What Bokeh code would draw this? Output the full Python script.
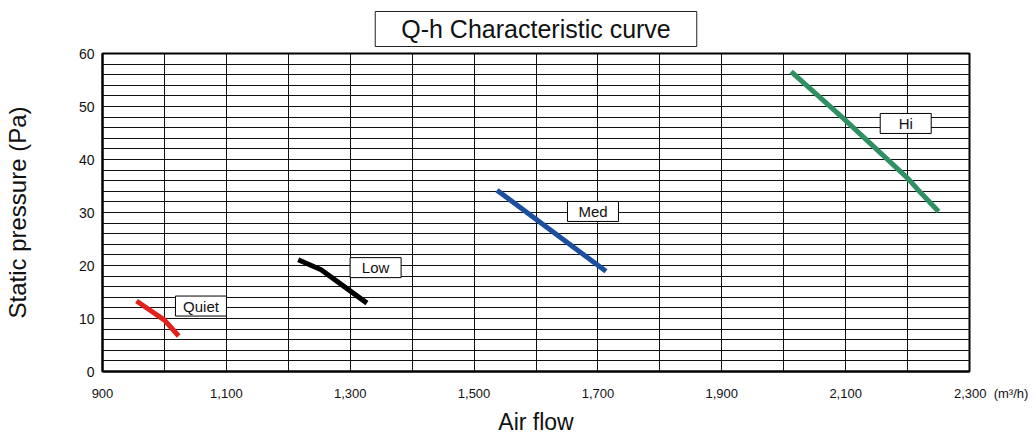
from bokeh.plotting import figure
from bokeh.models import FixedTicker, SingleIntervalTicker, NumeralTickFormatter, ColumnDataSource, Range1d, Title
from bokeh.core.properties import value
from bokeh.embed import file_html
from bokeh.resources import INLINE

# ---- data ----
quiet_x = [955, 975, 1000, 1023]
quiet_y = [13.3, 11.7, 9.7, 6.7]
low_x = [1216, 1253, 1327]
low_y = [21.1, 19.2, 12.9]
med_x = [1537, 1713]
med_y = [34.2, 18.9]
hi_x = [2012, 2095, 2200, 2216, 2250]
hi_y = [56.6, 47.9, 36.5, 34.4, 30.2]

series_names = ["Quiet", "Low", "Med", "Hi"]
label_x = [1059, 1341, 1692, 2197]
label_y = [12.35, 19.6, 30.2, 46.8]

x_ticks = [900, 1100, 1300, 1500, 1700, 1900, 2100, 2300]
y_ticks = [0, 10, 20, 30, 40, 50, 60]
x_unit = "(m\u00b3/h)"

title_text = "Q-h Characteristic curve"
x_title = "Air flow"
y_title = "Static pressure (Pa)"

FONT = "Liberation Sans"
TXT = "#111111"
colors = ["#e3231b", "#000000", "#1c4fa0", "#2f9163"]

p = figure(width=1036, height=437,
           x_range=Range1d(900, 2300), y_range=Range1d(0, 60),
           output_backend="svg", toolbar_location=None,
           min_border_left=101, min_border_right=67,
           min_border_top=53, min_border_bottom=63)
p.title = Title(text=title_text, align="center", offset=-1.5, standoff=14,
                text_font=FONT, text_font_size="25px", text_font_style="normal",
                text_color=TXT, background_fill_color="white",
                border_line_color="#222222", border_line_width=1,
                padding=dict(left=26, right=26, top=3, bottom=4))
p.background_fill_color = "white"
p.border_fill_color = "white"
p.outline_line_color = "black"
p.outline_line_width = 2

# grid
p.xgrid.ticker = SingleIntervalTicker(interval=100)
p.ygrid.ticker = SingleIntervalTicker(interval=2)
for g in (p.xgrid, p.ygrid):
    g.grid_line_color = "#111111"
    g.grid_line_width = 1
    g.grid_line_alpha = 1

# axes
p.xaxis.ticker = FixedTicker(ticks=x_ticks)
p.yaxis.ticker = FixedTicker(ticks=y_ticks)
p.xaxis.formatter = NumeralTickFormatter(format="0,0")
# unit written after the last tick label, padded so "2,300" stays centred on its tick
last = x_ticks[-1]
p.xaxis.major_label_overrides = {
    last: "\u00a0" * 12 + f"{last:,}" + "\u00a0" * 2 + x_unit
}
for ax in (p.xaxis, p.yaxis):
    ax.axis_line_color = "black"
    ax.axis_line_width = 2
    ax.major_tick_line_color = None
    ax.minor_tick_line_color = None
    ax.major_tick_out = 0
    ax.major_tick_in = 0
    ax.major_label_text_font = FONT
    ax.major_label_text_color = TXT
    ax.axis_label_text_font = FONT
    ax.axis_label_text_font_style = "normal"
    ax.axis_label_text_color = TXT
p.xaxis.axis_label_text_font_size = "23px"
p.yaxis.axis_label_text_font_size = "24px"
p.xaxis.major_label_text_font_size = "13px"
p.yaxis.major_label_text_font_size = "14px"
p.xaxis.major_label_standoff = 14
p.yaxis.major_label_standoff = 8
p.xaxis.axis_label = x_title
p.yaxis.axis_label = y_title
p.xaxis.axis_label_standoff = 5
p.yaxis.axis_label_standoff = 45

# curves
for xs, ys, c in zip([quiet_x, low_x, med_x, hi_x], [quiet_y, low_y, med_y, hi_y], colors):
    p.line(xs, ys, line_color=c, line_width=5)

# boxed curve labels
src = ColumnDataSource(dict(x=label_x, y=label_y, t=series_names))
p.rect(x="x", y="y", width=51, height=20, width_units="screen", height_units="screen",
       source=src, fill_color="white", line_color="black", line_width=1)
p.text(x="x", y="y", text="t", source=src, text_font=value(FONT), text_font_size="15px",
       text_align="center", text_baseline="middle", text_color=TXT)

open("out.html", "w").write(file_html(p, INLINE))
